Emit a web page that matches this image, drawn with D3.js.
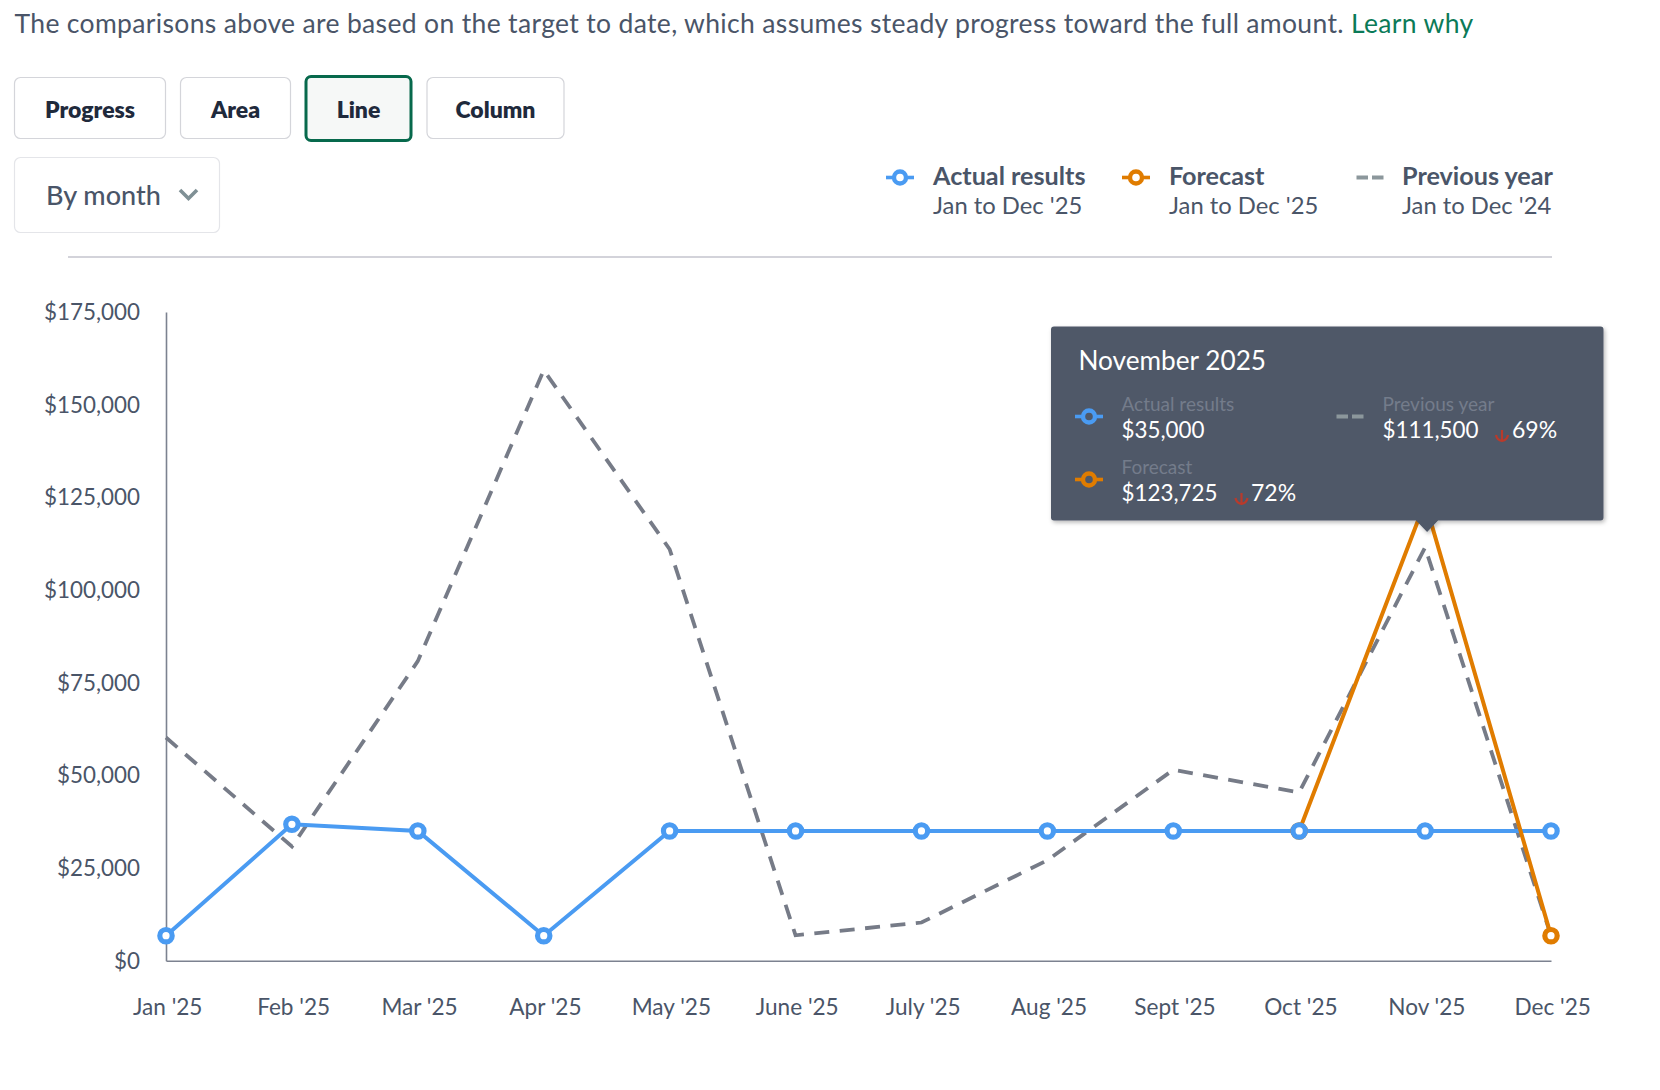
<!DOCTYPE html>
<html><head><meta charset="utf-8">
<script src="https://cdn.jsdelivr.net/npm/d3@7"></script>
<style>
html,body{margin:0;padding:0;background:#fff}
svg{display:block;font-family:Lato,sans-serif}
</style></head><body><svg id="c" width="1660" height="1090"></svg>
<script>
const months=["Jan '25","Feb '25","Mar '25","Apr '25","May '25","June '25","July '25","Aug '25","Sept '25","Oct '25","Nov '25","Dec '25"];
const actual=[6750,36800,35000,6750,35000,35000,35000,35000,35000,35000,35000,35000];
const forecastMonths=["Oct '25","Nov '25","Dec '25"];
const forecast=[35000,123725,6750];
const previous=[60200,30800,80800,159300,111000,6850,10300,27100,51500,45400,111500,6750];
const yTicks=[0,25000,50000,75000,100000,125000,150000,175000];
const buttons=["Progress","Area","Line","Column"];

const TXT="#4a5568",DARK="#1f2a3c",BLUE="#4a9bf2",ORANGE="#e07c00",DASH="#767b87",AXIS="#7c8290";
const svg=d3.select("#c");
const x=d3.scalePoint().domain(months).range([166,1551]);
const y=d3.scaleLinear().domain([0,175000]).range([960.7,312]);
const money=d3.format("$,");

function text(g,s,px,py,size,fill,weight,anchor){
  return g.append("text").attr("x",px).attr("y",py).attr("dy","0.35em").attr("font-size",size)
    .attr("fill",fill).attr("font-weight",weight||400).attr("text-anchor",anchor||"start").text(s);
}
// intro
const intro=text(svg,"",14.5,24,26.5,TXT).attr("letter-spacing",0.34);
intro.append("tspan").text("The comparisons above are based on the target to date, which assumes steady progress toward the full amount. ");
intro.append("tspan").attr("fill","#0b7a58").text("Learn why");

// buttons
const btnX=[[14.5,165.5],[180.5,290.5],[306,411],[427,564]];
buttons.forEach((b,i)=>{
  const [a,e]=btnX[i],act=b==="Line";
  svg.append("rect").attr("x",a).attr("y",act?76.5:77.5).attr("width",e-a).attr("height",act?64:61).attr("rx",act?5:6)
    .attr("fill",act?"#f6f8f7":"#fff").attr("stroke",act?"#07694c":"#d4d5da").attr("stroke-width",act?3:1.2);
  text(svg,b,(a+e)/2,110,23,DARK,800,"middle");
});
svg.append("rect").attr("x",14.5).attr("y",157.5).attr("width",205).attr("height",75).attr("rx",6).attr("fill","#fff").attr("stroke","#e4e5e9").attr("stroke-width",1.2);
text(svg,"By month",46,196,27,TXT,500);
svg.append("path").attr("d","M180 190L188.5 198.5L197 190").attr("fill","none").attr("stroke","#7f9095").attr("stroke-width",3.6);
svg.append("line").attr("x1",68).attr("x2",1552).attr("y1",257).attr("y2",257).attr("stroke","#d3d3da").attr("stroke-width",1.8);

// legend glyphs
function glyph(g,cx,cy,color,dashed){
  if(dashed){
    g.append("line").attr("x1",cx-13.5).attr("x2",cx+13.5).attr("y1",cy).attr("y2",cy).attr("stroke",color).attr("stroke-width",4).attr("stroke-dasharray","11.5 4");
  }else{
    g.append("line").attr("x1",cx-14).attr("x2",cx+14).attr("y1",cy).attr("y2",cy).attr("stroke",color).attr("stroke-width",3.6);
    g.append("circle").attr("cx",cx).attr("cy",cy).attr("r",6).attr("fill",g===svg?"#fff":"#4f5868").attr("stroke",color).attr("stroke-width",4.4);
  }
}
[["Actual results","Jan to Dec '25",900,933,BLUE,false],["Forecast","Jan to Dec '25",1136,1169,ORANGE,false],["Previous year","Jan to Dec '24",1370,1402,"#8c979c",true]]
.forEach(([a,b,gx,tx,c,d])=>{
  glyph(svg,gx,177.5,c,d);
  text(svg,a,tx,176.2,25.2,TXT,700);
  text(svg,b,tx,205.6,23.8,TXT,400);
});

// axes
const gy=svg.append("g").attr("transform","translate(166,0)").call(d3.axisLeft(y).tickValues(yTicks).tickSize(0).tickPadding(26).tickFormat(money));
gy.select(".domain").attr("stroke",AXIS).attr("stroke-width",1.6);
gy.selectAll("text").attr("font-family","Lato,sans-serif").attr("font-size",22.4).attr("fill",TXT).attr("dy","0.34em");
const gx=svg.append("g").attr("transform","translate(0,960.7)").call(d3.axisBottom(x).tickSize(0).tickPadding(38));
gx.select(".domain").attr("stroke",AXIS).attr("stroke-width",1.6);
gx.selectAll("text").attr("font-family","Lato,sans-serif").attr("font-size",22.6).attr("fill",TXT).attr("dx",1.2);

// series
const lineGen=d3.line().x(d=>x(d[0])).y(d=>y(d[1]));
svg.append("path").datum(d3.zip(months,previous)).attr("d",lineGen).attr("fill","none").attr("stroke",DASH).attr("stroke-width",3.8).attr("stroke-dasharray","15 10.5");
svg.append("path").datum(d3.zip(months,actual)).attr("d",lineGen).attr("fill","none").attr("stroke",BLUE).attr("stroke-width",4);
svg.append("path").datum(d3.zip(forecastMonths,forecast)).attr("d",lineGen).attr("fill","none").attr("stroke",ORANGE).attr("stroke-width",4);
function dots(data,color){
  svg.append("g").selectAll("circle").data(data).join("circle").attr("cx",d=>x(d[0])).attr("cy",d=>y(d[1])).attr("r",6.2)
    .attr("fill","#fff").attr("stroke",color).attr("stroke-width",5.2);
}
dots(d3.zip(forecastMonths,forecast),ORANGE);
dots(d3.zip(months,actual),BLUE);

// tooltip
const hi="Nov '25",hiI=months.indexOf(hi);
const tipFill="#4f5868";
const defs=svg.append("defs");
defs.append("filter").attr("id","sh").attr("x","-5%").attr("y","-5%").attr("width","110%").attr("height","115%")
  .append("feDropShadow").attr("dx",1.5).attr("dy",2).attr("stdDeviation",2).attr("flood-color","#000").attr("flood-opacity",0.28);
const tip=svg.append("g");
const ax=x(hi)+2;
tip.append("path").attr("filter","url(#sh)").attr("fill",tipFill)
  .attr("d",`M1054 326.5H1600.5a3 3 0 0 1 3 3V517.5a3 3 0 0 1 -3 3H${ax+11}L${ax} 532L${ax-11} 520.5H1054a3 3 0 0 1 -3 -3V329.5a3 3 0 0 1 3 -3Z`);
text(tip,"November 2025",1078.5,360.5,26.2,"#fff",400);
const LAB="#747c8b";
function arrow(ax,ay){
  tip.append("path").attr("d",`M${ax} ${ay}V${ay+11}M${ax-6} ${ay+5}Q${ax-5} ${ay+10} ${ax} ${ay+11}Q${ax+5} ${ay+10} ${ax+6} ${ay+5}`)
    .attr("fill","none").attr("stroke","#b93a2b").attr("stroke-width",2.2);
}
glyph(tip,1089,416.5,BLUE,false);
text(tip,"Actual results",1121.5,404,19,LAB);
text(tip,money(actual[hiI]),1121.5,430,22.4,"#fff");
glyph(tip,1350,416.5,"#8c979c",true);
text(tip,"Previous year",1382.5,404,19,LAB);
text(tip,money(previous[hiI]),1382.5,430,22.4,"#fff");
arrow(1502,430);
text(tip,"69%",1512,430,23,"#fff");
glyph(tip,1089,479.5,ORANGE,false);
text(tip,"Forecast",1121.5,467,19,LAB);
text(tip,money(forecast[forecastMonths.indexOf(hi)]),1121.5,493,22.4,"#fff");
arrow(1241.5,493);
text(tip,"72%",1251,493,23,"#fff");
</script></body></html>
